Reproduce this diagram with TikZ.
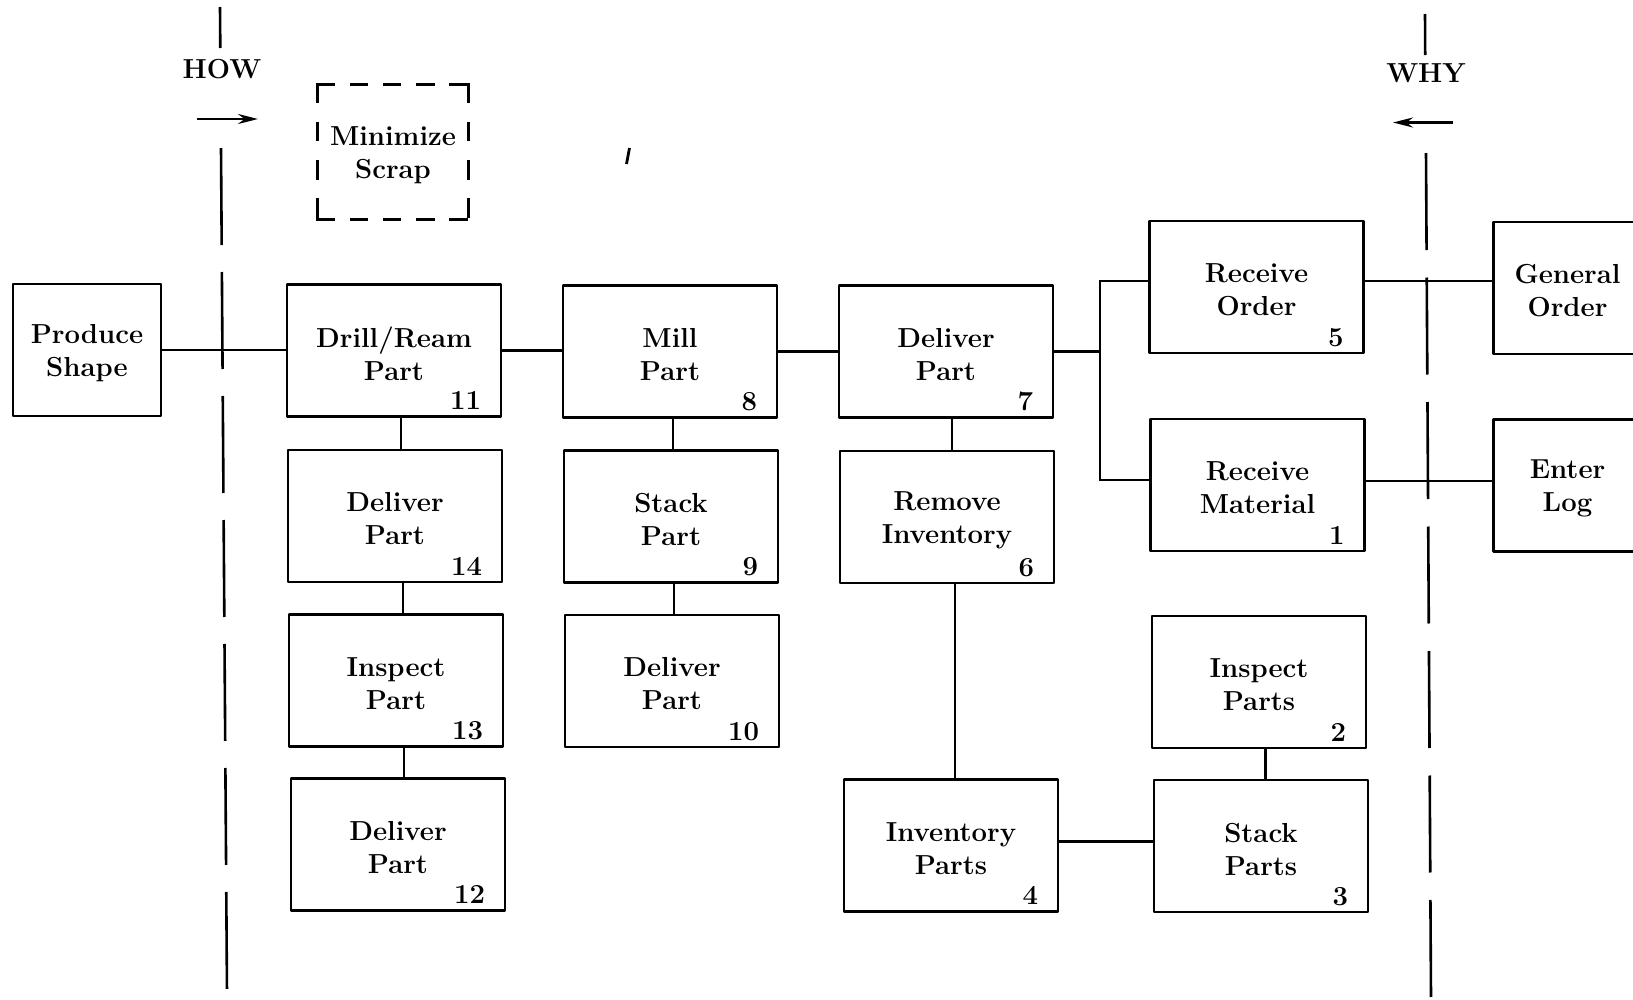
\documentclass[tikz,border=0pt]{standalone}
\usetikzlibrary{arrows.meta}
\begin{document}
\begin{tikzpicture}[x=1pt,y=-1pt,
  every node/.style={font=\bfseries\fontsize{27.5}{33}\selectfont},
  txt/.style={align=center,inner sep=0pt,yshift=-3pt},
  box/.style={draw,line width=2.7pt,minimum width=214pt,minimum height=132pt,inner sep=0pt,line join=round},
  ext/.style={box,minimum width=148pt},
  num/.style={anchor=base east,inner sep=0pt},
  link/.style={line width=2.5pt},
  guide/.style={line width=2.6pt,dash pattern=on 97pt off 27pt},
  dside/.style={line width=2.6pt,line cap=rect},
  dir/.style={line width=2.5pt,-{Stealth[length=20pt,width=10pt]}}
]
\useasboundingbox (0,0) rectangle (1633,999);
\clip (0,0) rectangle (1633,999);

% boxes
\node[ext,label={[txt]center:Produce\\Shape}] (ps) at (87,350) {};
\node[box,label={[txt]center:Drill/Ream\\Part}] (b11) at (394,350.5) {};
\node[box,label={[txt]center:Mill\\Part}] (b8) at (670,351.5) {};
\node[box,label={[txt]center:Deliver\\Part}] (b7) at (946,351.5) {};
\node[box,label={[txt]center:Receive\\Order}] (b5) at (1256.5,287) {};
\node[ext,label={[txt]center:General\\Order}] (go) at (1567.5,288) {};
\node[box,label={[txt]center:Receive\\Material}] (b1) at (1257.5,485) {};
\node[ext,label={[txt]center:Enter\\Log}] (el) at (1567.5,485.5) {};
\node[box,label={[txt]center:Deliver\\Part}] (b14) at (395,516) {};
\node[box,label={[txt]center:Stack\\Part}] (b9) at (671,516.5) {};
\node[box,label={[txt]center:Remove\\Inventory}] (b6) at (947,517) {};
\node[box,label={[txt]center:Inspect\\Part}] (b13) at (396,680.5) {};
\node[box,label={[txt]center:Deliver\\Part}] (b10) at (672,681) {};
\node[box,label={[txt]center:Inspect\\Parts}] (b2) at (1259,682) {};
\node[box,label={[txt]center:Deliver\\Part}] (b12) at (398,844.5) {};
\node[box,label={[txt]center:Inventory\\Parts}] (b4) at (951,845.5) {};
\node[box,label={[txt]center:Stack\\Parts}] (b3) at (1261,846) {};

% numbers
\foreach \b/\n in {b11/11,b8/8,b7/7,b5/5,b1/1,b14/14,b9/9,b6/6,b13/13,b10/10,b2/2,b12/12,b4/4,b3/3}
  \node[num] (n\n) at ([shift={(-21pt,8pt)}]\b.south east) {\n};

% dashed box
\node[ext,draw=none,label={[txt]center:Minimize\\Scrap}] (ms) at (393,152) {};
\draw[dside,dash pattern=on 16pt off 17.25pt] (ms.north west) -- (ms.north east);
\draw[dside,dash pattern=on 16pt off 17.25pt] (ms.south west) -- (ms.south east);
\draw[dside,dash pattern=on 17pt off 21.3pt] (ms.north west) -- (ms.south west);
\draw[dside,dash pattern=on 17pt off 21.3pt] (ms.north east) -- (ms.south east);

% HOW / WHY guides
\coordinate (howa) at (220,7);
\coordinate (howb) at (220.3,48);
\coordinate (howc) at (221,148);
\coordinate (howd) at (227,994);
\draw[link,line width=2.6pt] (howa) -- (howb);
\draw[guide] (howc) -- (howd);
\node (how) at (222,69) {HOW};
\coordinate (hs) at (197,119);
\coordinate (he) at (258,119);
\draw[dir] (hs) -- (he);

\coordinate (whya) at (1425,14);
\coordinate (whyb) at (1425.2,55);
\coordinate (whyc) at (1426,153);
\coordinate (whyd) at (1431,998);
\draw[link,line width=2.6pt] (whya) -- (whyb);
\draw[guide,dash pattern=on 97pt off 27.5pt] (whyc) -- (whyd);
\node (why) at (1426,73) {WHY};
\coordinate (ws) at (1453,122.5);
\coordinate (we) at (1393,122.5);
\draw[dir] (ws) -- (we);

% stray mark
\coordinate (sa) at (629.5,148);
\coordinate (sb) at (626.5,164);
\draw[line width=2.8pt] (sa) -- (sb);

% horizontal connectors
\draw[link] (ps.east) -- (ps.east -| b11.west);
\draw[link] (b11.east) -- (b11.east -| b8.west);
\draw[link] (b8.east) -- (b7.west);
\coordinate (jt) at (1100,281);
\coordinate (jb) at (1100,480);
\draw[link] (b7.east) -- (b7.east -| jt);
\draw[link] (b5.west |- jt) -- (jt) -- (jb) -- (b1.west |- jb);
\draw[link] ([yshift=6pt]b5.east) -- ([yshift=7pt]go.west);
\draw[link] ([yshift=4pt]b1.east) -- ([yshift=4.5pt]el.west);
\draw[link] ([yshift=4pt]b4.east) -- ([yshift=4.5pt]b3.west);

% vertical connectors
\draw[link] ([xshift=7pt]b11.south) -- ([xshift=6pt]b14.north);
\draw[link] ([xshift=8pt]b14.south) -- ([xshift=7pt]b13.north);
\draw[link] ([xshift=8pt]b13.south) -- ([xshift=6pt]b12.north);
\draw[link] ([xshift=3pt]b8.south) -- ([xshift=2pt]b9.north);
\draw[link] ([xshift=3pt]b9.south) -- ([xshift=2pt]b10.north);
\draw[link] ([xshift=6pt]b7.south) -- ([xshift=5pt]b6.north);
\draw[link] ([xshift=8pt]b6.south) -- ([xshift=4pt]b4.north);
\draw[link] ([xshift=6.5pt]b2.south) -- ([xshift=4.5pt]b3.north);
\end{tikzpicture}
\end{document}
